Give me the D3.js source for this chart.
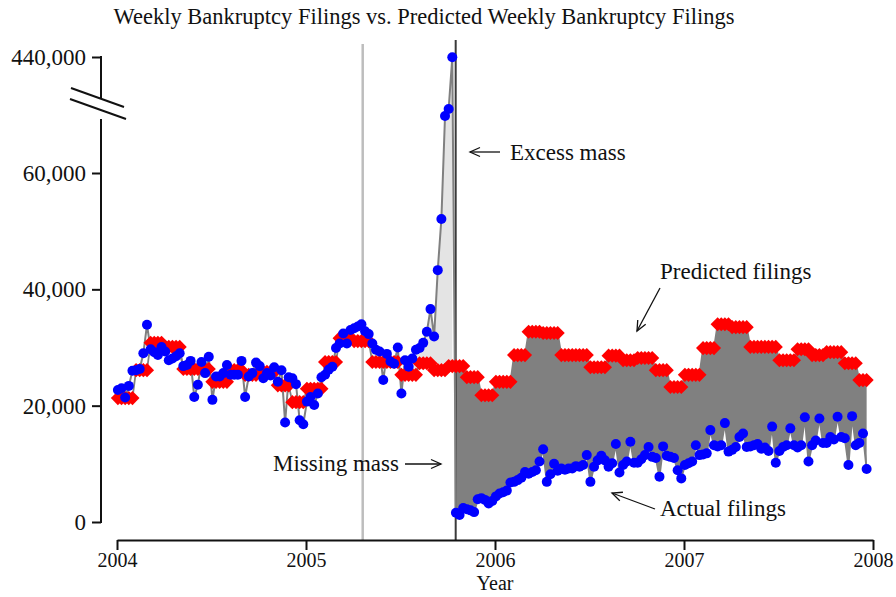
<!DOCTYPE html>
<html>
<head>
<meta charset="utf-8">
<script src="https://cdn.jsdelivr.net/npm/d3@7"></script>
<style>
  body { margin: 0; background: #fff; }
  text { font-family: "Liberation Serif", "DejaVu Serif", serif; fill: #111; }
</style>
</head>
<body>
<script>
// x ticks and y ticks
var years = [2004, 2005, 2006, 2007, 2008];
var yTicks = [0, 20000, 40000, 60000, 440000];

// predicted filings, one value per month Jan 2004 - Dec 2007 (thousands)
var predictedThousands = [
  21.3, 26.1, 30.8, 30.1, 26.3, 26.3, 24.1, 26.1, 25.3, 25.8, 23.5, 20.6,
  22.9, 27.5, 31.6, 31.1, 27.5, 27.5, 25.3, 27.3, 26.1, 26.8, 24.9, 21.8,
  24.1, 28.7, 32.7, 32.5, 28.7, 28.7, 26.6, 28.6, 27.8, 28.2, 26.1, 23.2,
  25.3, 29.9, 34.0, 33.5, 30.1, 30.1, 27.8, 29.7, 28.7, 29.2, 27.3, 24.4
];

// actual weekly filings, first week of 2004 onward (thousands)
var actualThousands = [
  22.7, 23.0, 21.4, 23.4, 26.0, 26.1, 26.3, 29.0, 33.9, 29.7,
  29.2, 28.7, 30.1, 29.3, 27.8, 28.1, 28.5, 29.0, 26.8, 27.0,
  27.7, 21.5, 23.6, 27.5, 25.6, 28.4, 21.0, 25.0, 25.0, 25.6,
  27.0, 25.3, 25.3, 25.3, 27.7, 21.5, 25.0, 25.6, 27.4, 26.8,
  24.7, 25.6, 25.2, 26.6, 24.1, 26.1, 17.1, 24.9, 24.7, 23.7,
  17.5, 16.8, 20.7, 21.5, 20.1, 22.1, 24.9, 25.3, 26.2, 26.7,
  29.9, 30.7, 32.4, 30.7, 33.0, 33.3, 33.6, 34.0, 32.8, 32.3,
  30.7, 29.6, 29.3, 24.4, 28.9, 27.6, 27.2, 30.0, 22.1, 27.8,
  26.7, 28.1, 29.6, 29.9, 30.8, 32.7, 36.6, 31.9, 43.3, 52.1,
  69.8, 71.0, 438, 1.6, 1.2, 2.4, 2.2, 2.0, 1.7, 3.9,
  4.1, 3.8, 3.2, 3.6, 4.4, 4.9, 5.1, 5.4, 6.8, 6.9,
  7.2, 7.6, 8.6, 8.3, 8.6, 8.9, 10.4, 12.5, 6.9, 8.2,
  10.0, 8.8, 9.2, 9.0, 9.2, 9.2, 9.6, 9.5, 9.8, 11.5,
  6.9, 9.5, 10.6, 11.4, 10.6, 9.5, 10.1, 13.4, 8.5, 9.8,
  10.4, 13.8, 10.2, 10.2, 10.8, 11.5, 12.9, 11.2, 11.0, 7.8,
  13.0, 11.4, 11.2, 11.0, 8.9, 7.5, 9.8, 10.1, 10.4, 13.2,
  11.5, 11.6, 11.8, 15.8, 13.2, 13.0, 13.2, 17.0, 12.1, 12.4,
  12.9, 14.6, 15.2, 12.9, 13.0, 13.2, 13.4, 12.6, 12.8, 12.2,
  16.4, 10.2, 12.2, 12.9, 13.2, 16.1, 13.2, 12.8, 13.2, 18.0,
  10.4, 13.2, 14.0, 17.8, 13.6, 13.6, 14.6, 14.2, 18.1, 14.6,
  14.4, 9.8, 18.2, 13.2, 13.6, 15.2, 9.1
];

var signingDate = 2005.30;   // Apr 20 2005
var effectiveDate = 2005.792; // Oct 17 2005

var width = 896, height = 597;

var x = d3.scaleLinear().domain([2004, 2008]).range([117, 873]);
// broken axis: linear up to ~72k, then squeezed up to 440k
var y = d3.scaleLinear().domain([0, 72000, 440000]).range([522, 103.2, 57]);

var weeks = actualThousands.map(function(v, i) {
  var t = 2004 + (i + 0.25) / 52;
  return {
    t: t,
    actual: v * 1000,
    predicted: predictedThousands[Math.floor((t - 2004) * 12)] * 1000
  };
});

var svg = d3.select("body").append("svg")
    .attr("width", width)
    .attr("height", height);

svg.append("defs").append("marker")
    .attr("id", "arrow")
    .attr("viewBox", "-12 -6 14 12")
    .attr("refX", 0).attr("refY", 0)
    .attr("markerWidth", 14).attr("markerHeight", 12)
    .attr("markerUnits", "userSpaceOnUse")
    .attr("orient", "auto")
  .append("path")
    .attr("d", "M-10,-4.5L0,0L-10,4.5")
    .attr("fill", "none")
    .attr("stroke", "#111")
    .attr("stroke-width", 1.3);

// excess mass area (light) and missing mass area (dark)
var excess = weeks.filter(function(d) { return d.t >= signingDate && d.t < effectiveDate; });
var missing = weeks.filter(function(d) { return d.t > effectiveDate; });

svg.append("path")
    .datum(excess)
    .attr("fill", "#e4e4e4")
    .attr("d", d3.area()
      .x(function(d) { return x(d.t); })
      .y0(function(d) { return y(d.predicted); })
      .y1(function(d) { return y(Math.max(d.actual, d.predicted)); }));

svg.append("path")
    .datum(missing)
    .attr("fill", "#808080")
    .attr("d", d3.area()
      .x(function(d) { return x(d.t); })
      .y0(function(d) { return y(d.predicted); })
      .y1(function(d) { return y(d.actual); }));

// vertical reference lines
svg.append("line")
    .attr("x1", x(signingDate)).attr("x2", x(signingDate))
    .attr("y1", 44).attr("y2", 540)
    .attr("stroke", "#bdbdbd").attr("stroke-width", 2.5);

svg.append("line")
    .attr("x1", x(effectiveDate)).attr("x2", x(effectiveDate))
    .attr("y1", 40).attr("y2", 540)
    .attr("stroke", "#3a3a3a").attr("stroke-width", 2);

// connecting lines
svg.append("path")
    .datum(weeks)
    .attr("fill", "none")
    .attr("stroke", "#808080")
    .attr("stroke-width", 1.8)
    .attr("d", d3.line().x(function(d) { return x(d.t); }).y(function(d) { return y(d.predicted); }));

svg.append("path")
    .datum(weeks)
    .attr("fill", "none")
    .attr("stroke", "#808080")
    .attr("stroke-width", 2)
    .attr("d", d3.line().x(function(d) { return x(d.t); }).y(function(d) { return y(d.actual); }));

// predicted markers (red diamonds)
svg.append("g").selectAll("path")
    .data(weeks)
  .enter().append("path")
    .attr("d", d3.symbol().type(d3.symbolSquare).size(100))
    .attr("transform", function(d) { return "translate(" + x(d.t) + "," + y(d.predicted) + ") rotate(45)"; })
    .attr("fill", "#ff0000");

// actual markers (blue circles)
svg.append("g").selectAll("circle")
    .data(weeks)
  .enter().append("circle")
    .attr("cx", function(d) { return x(d.t); })
    .attr("cy", function(d) { return y(d.actual); })
    .attr("r", 5)
    .attr("fill", "#0000ff");

// x axis
var xAxis = svg.append("g")
    .attr("transform", "translate(0,540)")
    .call(d3.axisBottom(x).tickValues(years).tickFormat(d3.format("d")).tickSize(10).tickSizeOuter(0).tickPadding(3));
xAxis.select(".domain").attr("stroke", "#111").attr("stroke-width", 2);
xAxis.selectAll(".tick line").attr("stroke", "#111").attr("stroke-width", 2);
xAxis.selectAll(".tick text").style("font-size", "20px").attr("fill", "#111");

svg.append("text")
    .attr("x", 495).attr("y", 590)
    .attr("text-anchor", "middle")
    .style("font-size", "20px")
    .text("Year");

// y axis with a break
var yAxis = svg.append("g")
    .attr("transform", "translate(101,0)")
    .call(d3.axisLeft(y).tickValues(yTicks).tickFormat(d3.format(",")).tickSize(9).tickSizeOuter(0).tickPadding(6));
yAxis.select(".domain").remove();
yAxis.selectAll(".tick line").attr("stroke", "#111").attr("stroke-width", 2);
yAxis.selectAll(".tick text").style("font-size", "23px").attr("fill", "#111");

svg.append("line")
    .attr("x1", 101).attr("x2", 101).attr("y1", y(0) + 1).attr("y2", 119)
    .attr("stroke", "#111").attr("stroke-width", 2);
svg.append("line")
    .attr("x1", 101).attr("x2", 101).attr("y1", 98).attr("y2", y(440000) - 1)
    .attr("stroke", "#111").attr("stroke-width", 2);
svg.append("line")
    .attr("x1", 71).attr("y1", 88).attr("x2", 124).attr("y2", 107)
    .attr("stroke", "#111").attr("stroke-width", 2);
svg.append("line")
    .attr("x1", 70).attr("y1", 99).attr("x2", 126).attr("y2", 119)
    .attr("stroke", "#111").attr("stroke-width", 2);

// title
svg.append("text")
    .attr("x", 424).attr("y", 24)
    .attr("text-anchor", "middle")
    .style("font-size", "22.5px")
    .text("Weekly Bankruptcy Filings vs. Predicted Weekly Bankruptcy Filings");

// annotations
var notes = [
  { text: "Excess mass", tx: 510, ty: 160, from: [500, 152], to: [470, 152] },
  { text: "Predicted filings", tx: 660, ty: 279, from: [660, 288], to: [637, 331] },
  { text: "Missing mass", tx: 273, ty: 471, from: [405, 464], to: [441, 464] },
  { text: "Actual filings", tx: 660, ty: 516, from: [655, 509], to: [612, 493] }
];

notes.forEach(function(n) {
  svg.append("text")
      .attr("x", n.tx).attr("y", n.ty)
      .style("font-size", "23px")
      .text(n.text);
  svg.append("line")
      .attr("x1", n.from[0]).attr("y1", n.from[1])
      .attr("x2", n.to[0]).attr("y2", n.to[1])
      .attr("stroke", "#111").attr("stroke-width", 1.3)
      .attr("marker-end", "url(#arrow)");
});
</script>
</body>
</html>
